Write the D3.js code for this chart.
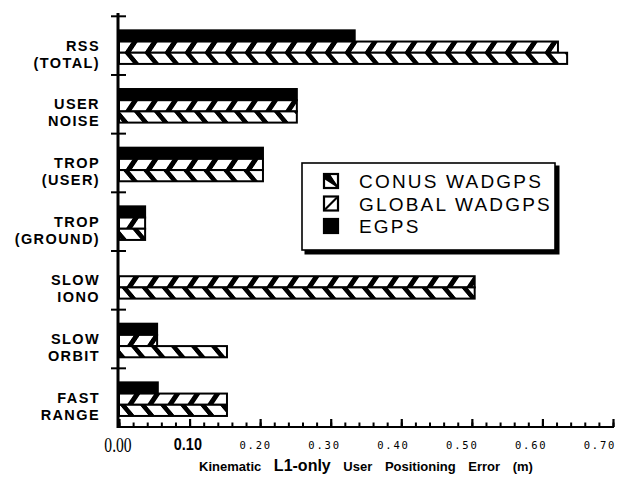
<!DOCTYPE html>
<html>
<head>
<meta charset="utf-8">
<script src="https://cdn.jsdelivr.net/npm/d3@7"></script>
<style>
  body { margin: 0; background: #fff; }
  svg { display: block; }
</style>
</head>
<body>
<svg id="chart" width="626" height="477"></svg>
<script>
// data
var categories = ["RSS\n(TOTAL)", "USER\nNOISE", "TROP\n(USER)", "TROP\n(GROUND)", "SLOW\nIONO", "SLOW\nORBIT", "FAST\nRANGE"];
var seriesNames = ["EGPS", "GLOBAL WADGPS", "CONUS WADGPS"];
var egps = [0.334, 0.252, 0.204, 0.037, 0, 0.054, 0.055];
var globalWad = [0.622, 0.252, 0.204, 0.037, 0.504, 0.054, 0.153];
var conusWad = [0.635, 0.252, 0.204, 0.037, 0.504, 0.153, 0.153];
var xTicks = [0, 0.1, 0.2, 0.3, 0.4, 0.5, 0.6, 0.7];
var xTickLabels = ["0.00", "0.10", "0.20", "0.30", "0.40", "0.50", "0.60", "0.70"];
var legendOrder = ["CONUS WADGPS", "GLOBAL WADGPS", "EGPS"];

var seriesValues = [egps, globalWad, conusWad];

var svg = d3.select("#chart");
svg.append("rect").attr("width", 626).attr("height", 477).attr("fill", "#fff");

// hatch patterns (vertical stripes skewed)
var defs = svg.append("defs");
function addHatch(id, skew) {
    var p = defs.append("pattern")
        .attr("id", id)
        .attr("patternUnits", "userSpaceOnUse")
        .attr("width", 20).attr("height", 20)
        .attr("patternTransform", "skewX(" + skew + ")");
    p.append("rect").attr("width", 20).attr("height", 20).attr("fill", "#fff");
    p.append("rect").attr("width", 6).attr("height", 20).attr("fill", "#000");
}
addHatch("hatchGlobal", -34);
addHatch("hatchConus", 40);
var fills = { "EGPS": "#000", "GLOBAL WADGPS": "url(#hatchGlobal)", "CONUS WADGPS": "url(#hatchConus)" };

var x = d3.scaleLinear().domain([0, 0.7]).range([119, 613]);
// the typed tick labels drift a little left of the ticks
var xLabel = d3.scaleLinear().domain([0, 0.7]).range([118, 600]);
var y = d3.scaleBand().domain(categories).range([16.3, 427]).padding(0);
var y1 = d3.scaleBand().domain(seriesNames)
    .range([1.5, y.bandwidth() + 1.5]).paddingInner(0).paddingOuter(1.12);

// bars
var rows = [];
categories.forEach(function (c, i) {
    seriesNames.forEach(function (s, j) {
        rows.push({ cat: c, series: s, value: seriesValues[j][i] });
    });
});

svg.append("g").selectAll("rect")
    .data(rows.filter(function (d) { return d.value > 0; }))
    .enter().append("rect")
    .attr("x", x(0))
    .attr("y", function (d) { return y(d.cat) + y1(d.series); })
    .attr("width", function (d) { return x(d.value) - x(0); })
    .attr("height", y1.bandwidth())
    .attr("fill", function (d) { return fills[d.series]; })
    .attr("stroke", "#000")
    .attr("stroke-width", 2);

// x axis: minor + major ticks pointing up
var minor = d3.range(0, 0.7001, 0.02);
svg.append("g")
    .attr("transform", "translate(0,427)")
    .call(d3.axisBottom(x).tickValues(minor).tickSize(-4.5).tickFormat(""))
    .call(function (g) {
        g.select(".domain").attr("stroke-width", 2).attr("d", "M118,0H614");
        g.selectAll(".tick line").attr("stroke-width", 2);
    });

var xAxis = svg.append("g")
    .attr("transform", "translate(0,427)")
    .call(d3.axisBottom(x).tickValues(xTicks).tickSize(-8).tickFormat(""));
xAxis.select(".domain").remove();
xAxis.selectAll(".tick line").attr("stroke-width", 2.2);

// tick labels, each in the typeface it was pasted in with
var tl = svg.append("g").attr("text-anchor", "middle").attr("fill", "#000");
xTicks.forEach(function (d, i) {
    var t = tl.append("text").text(xTickLabels[i]);
    if (i === 0) {
        t.attr("transform", "translate(" + xLabel(d) + ",452) scale(0.82,1.1)")
         .style("font-family", "'Liberation Serif'").style("font-size", "19px");
    } else if (i === 1) {
        t.attr("transform", "translate(" + (xLabel(d) + 1) + ",450) scale(0.85,1)")
         .style("font-family", "'Liberation Sans'").style("font-size", "17px")
         .style("font-weight", "bold");
    } else {
        t.attr("x", xLabel(d)).attr("y", 449)
         .style("font-family", "'DejaVu Sans Mono'").style("font-size", "10.5px")
         .style("letter-spacing", "1.8px");
    }
});

// y axis line and group boundary ticks
svg.append("line")
    .attr("x1", 118).attr("x2", 118).attr("y1", 13).attr("y2", 428)
    .attr("stroke", "#000").attr("stroke-width", 3);

var bounds = categories.map(function (c) { return y(c); });
svg.append("g").selectAll("line")
    .data(bounds)
    .enter().append("line")
    .attr("x1", 111).attr("x2", 126)
    .attr("y1", function (d) { return d; }).attr("y2", function (d) { return d; })
    .attr("stroke", "#000").attr("stroke-width", 2);

// category labels
var labels = svg.append("g")
    .style("font-family", "'Liberation Sans', Arial, sans-serif")
    .style("font-weight", "bold")
    .style("font-size", "14.5px")
    .style("letter-spacing", "1.4px")
    .attr("text-anchor", "end");

categories.forEach(function (c) {
    var mid = y(c) + y.bandwidth() / 2;
    var parts = c.split("\n");
    var t = labels.append("text");
    parts.forEach(function (p, k) {
        t.append("tspan")
            .attr("x", 100)
            .attr("y", mid + 5 + k * 17)
            .text(p);
    });
});

// x axis title
var title = svg.append("text")
    .attr("x", 366).attr("y", 471)
    .attr("text-anchor", "middle")
    .style("font-family", "'Liberation Sans', Arial, sans-serif")
    .style("font-weight", "bold")
    .style("font-size", "13px")
    .style("word-spacing", "9px");
title.append("tspan").text("Kinematic ");
title.append("tspan").style("font-size", "16px").text("L1-only");
title.append("tspan").text(" User Positioning Error (m)");

// legend
var lg = svg.append("g").attr("transform", "translate(302,163)");
lg.append("rect").attr("x", 2.5).attr("y", 2.5).attr("width", 255).attr("height", 89)
    .attr("fill", "#000");
lg.append("rect").attr("width", 253).attr("height", 87)
    .attr("fill", "#fff").attr("stroke", "#000").attr("stroke-width", 1.6);

var item = lg.selectAll(".item")
    .data(legendOrder)
    .enter().append("g")
    .attr("transform", function (d, i) { return "translate(22," + (11 + i * 22.5) + ")"; });

item.append("rect")
    .attr("width", 14).attr("height", 14)
    .attr("fill", function (d) { return d === "EGPS" ? "#000" : "#fff"; })
    .attr("stroke", "#000").attr("stroke-width", 2.2);
item.filter(function (d) { return d === "CONUS WADGPS"; })
    .append("path").attr("d", "M0,0H6L14,14L0,5Z").attr("fill", "#000");
item.filter(function (d) { return d === "CONUS WADGPS"; })
    .append("path").attr("d", "M4,0L14,14").attr("stroke", "#000").attr("stroke-width", 2.2);
item.filter(function (d) { return d === "GLOBAL WADGPS"; })
    .append("path").attr("d", "M1,13L13,1").attr("stroke", "#000").attr("stroke-width", 2.2);

item.append("text")
    .attr("x", 35).attr("y", 14)
    .style("font-family", "'Liberation Sans', Arial, sans-serif")
    .style("font-size", "19px")
    .style("letter-spacing", "2.2px")
    .text(function (d) { return d; });
</script>
</body>
</html>
